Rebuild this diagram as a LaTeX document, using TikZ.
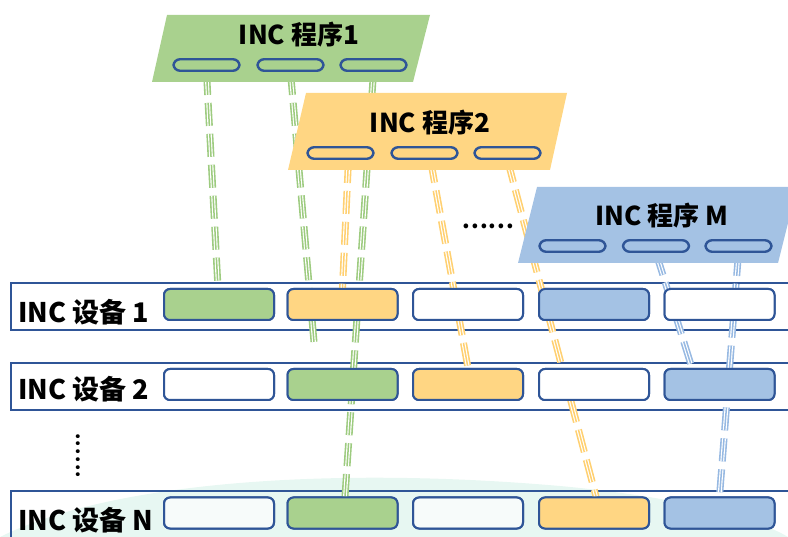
\documentclass[tikz,border=0pt]{standalone}
\usepackage{fontspec}
\setmainfont{Noto Sans CJK SC}
\usetikzlibrary{calc}

\definecolor{pgreen}{HTML}{A9D18E}
\definecolor{porange}{HTML}{FFD683}
\definecolor{pblue}{HTML}{A4C2E4}
\definecolor{lgreen}{HTML}{9DCB7F}
\definecolor{lorange}{HTML}{FFD070}
\definecolor{lblue}{HTML}{97B9E2}
\definecolor{frameblue}{HTML}{2F5597}
\definecolor{mint}{HTML}{DDF4EC}

% a row of six dots with a chosen gap
\newcommand\dotrow[1]{.\kern#1.\kern#1.\kern#1.\kern#1.\kern#1.}

\begin{document}
\begin{tikzpicture}[x=1pt,y=-1pt,
  oval/.style={draw=frameblue, line width=2.4pt, fill=#1, rounded corners=6.5pt,
    minimum width=66pt, minimum height=11.5pt, inner sep=0pt},
  slot/.style={draw=frameblue, line width=2pt, fill=#1, rounded corners=6pt,
    minimum width=110pt, minimum height=31pt, inner sep=0pt},
  rowbox/.style={draw=frameblue, line width=2.5pt},
  progtext/.style={font=\bfseries\fontsize{26}{26}\selectfont, inner sep=0pt, anchor=base},
  devtext/.style={font=\bfseries\fontsize{27}{27}\selectfont, inner sep=0pt, anchor=base west},
  link/.style={line width=7pt, draw=#1, dash pattern=on 23pt off 8pt,
    postaction={draw=white, line width=3.8pt, dash pattern=on 23pt off 8pt},
    postaction={draw=#1, line width=1.5pt, dash pattern=on 23pt off 8pt}},
]
\useasboundingbox (0,0) rectangle (788,537);

% soft wash behind the last device row
\fill[mint, opacity=0.7] (0,537) .. controls (110,482) and (330,466) .. (560,486)
  .. controls (690,498) and (760,520) .. (788,537) -- cycle;

% device rows
\draw[rowbox] (11,283) rectangle (800,330);
\draw[rowbox] (11,363) rectangle (800,410);
\draw[rowbox] (11,491) rectangle (800,560);

% program ovals (placed first so connectors can refer to them)
\path
  node[oval=pgreen] (p1o1) at (206.5,65) {}
  node[oval=pgreen] (p1o2) at (290.5,65) {}
  node[oval=pgreen] (p1o3) at (373.5,65) {}
  node[oval=porange] (p2o1) at (340.5,153) {}
  node[oval=porange] (p2o2) at (424.5,153) {}
  node[oval=porange] (p2o3) at (507.5,153) {}
  node[oval=pblue] (pMo1) at (572.5,246) {}
  node[oval=pblue] (pMo2) at (656,246) {}
  node[oval=pblue] (pMo3) at (738.5,246) {};

% device slots
\path
  node[slot=pgreen]  (a1) at (219,304.5) {}
  node[slot=porange] (a2) at (342.5,304.5) {}
  node[slot=white]   (a3) at (468,304.5) {}
  node[slot=pblue]   (a4) at (594,304.5) {}
  node[slot=white]   (a5) at (719.5,304.5) {}
  node[slot=white]   (b1) at (219,384.5) {}
  node[slot=pgreen]  (b2) at (342.5,384.5) {}
  node[slot=porange] (b3) at (468,384.5) {}
  node[slot=white]   (b4) at (594,384.5) {}
  node[slot=pblue]   (b5) at (719.5,384.5) {}
  node[slot=white, fill opacity=0.45] (c1) at (219,513) {}
  node[slot=pgreen]  (c2) at (342.5,513) {}
  node[slot=white, fill opacity=0.45] (c3) at (468,513) {}
  node[slot=porange] (c4) at (594,513) {}
  node[slot=pblue]   (c5) at (719.5,513) {};

\coordinate (g2end) at (314,342);

% connectors from program entries to device slots
\draw[link=lgreen] (p1o1.south) -- ([xshift=-1pt]a1.north);
\draw[link=lgreen] (p1o2.south) -- (g2end);
\draw[link=lgreen] (p1o3.south) -- ([xshift=2.5pt]c2.north);
\draw[link=lorange] ([xshift=8pt]p2o1.south) -- (a2.north);
\draw[link=lorange] ([xshift=6pt]p2o2.south) -- (b3.north);
\draw[link=lorange] (p2o3.south) -- ([xshift=2pt]c4.north);
\draw[link=lblue] (pMo2.south) -- ([xshift=-27.5pt]b5.north);
\draw[link=lblue] (pMo3.south) -- (c5.north);

% slots again on top of the connectors
\foreach \n/\c in {a1/pgreen,a2/porange,a3/white,a4/pblue,a5/white,
                   b1/white,b2/pgreen,b3/porange,b4/white,b5/pblue,
                   c2/pgreen,c4/porange,c5/pblue}
  \node[slot=\c] at (\n) {};
\foreach \n in {c1,c3}
  \node[slot=white, fill opacity=0.45] at (\n) {};

% program panels
\fill[pgreen]  (167,15) -- (430,15) -- (413,82) -- (152,82) -- cycle;
\fill[porange] (306,93) -- (567,93) -- (550,170) -- (288,170) -- cycle;
\fill[pblue]   (537,187) -- (797,187) -- (778,263) -- (518,263) -- cycle;

\foreach \n/\c in {p1o1/pgreen,p1o2/pgreen,p1o3/pgreen,
                   p2o1/porange,p2o2/porange,p2o3/porange,
                   pMo1/pblue,pMo2/pblue,pMo3/pblue}
  \node[oval=\c] at (\n) {};

\node[progtext] (t1) at (299,45) {INC 程序1};
\node[progtext] (t2) at (430,133) {INC 程序2};
\node[progtext] (tM) at (662,226) {INC 程序 M};

% device names
\node[devtext] (d1) at (18,323) {INC 设备 1};
\node[devtext] (d2) at (18,400) {INC 设备 2};
\node[devtext] (dN) at (18,530) {INC 设备 N};

% ellipses
\node[inner sep=0pt, anchor=base west, font=\bfseries\fontsize{22}{22}\selectfont] (hd) at (462,229) {\dotrow{1.2pt}};
\node[inner sep=0pt, rotate=-90, anchor=base west, font=\bfseries\fontsize{18}{18}\selectfont] (vd) at (76,433) {\dotrow{1.4pt}};
\end{tikzpicture}
\end{document}
